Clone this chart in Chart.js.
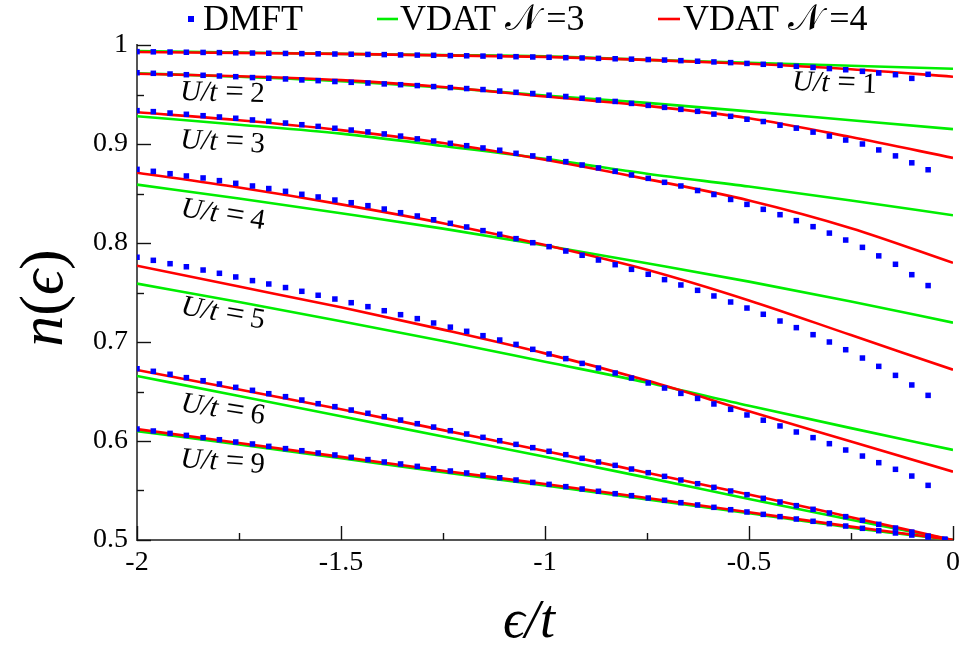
<!DOCTYPE html>
<html>
<head>
<meta charset="utf-8">
<script src="https://cdn.jsdelivr.net/npm/chart.js@4.4.1/dist/chart.umd.min.js"></script>
<style>
  html, body { margin: 0; padding: 0; background: #fff; }
  #c { display: block; }
</style>
</head>
<body>
<canvas id="c" width="966" height="651"></canvas>
<script>
// DMFT energy grid (eps/t)
const dmftX = [-2.000,-1.960,-1.919,-1.879,-1.838,-1.798,-1.758,-1.717,-1.677,-1.636,-1.596,-1.556,-1.515,-1.475,-1.434,-1.394,-1.354,-1.313,-1.273,-1.232,-1.192,-1.152,-1.111,-1.071,-1.030,-0.990,-0.949,-0.909,-0.869,-0.828,-0.788,-0.747,-0.707,-0.667,-0.626,-0.586,-0.545,-0.505,-0.465,-0.424,-0.384,-0.343,-0.303,-0.263,-0.222,-0.182,-0.141,-0.101,-0.061,-0.020];

const dmftU1 = [0.9933,0.9931,0.9929,0.9927,0.9925,0.9923,0.9921,0.9919,0.9917,0.9915,0.9913,0.9911,0.9909,0.9907,0.9905,0.9903,0.9900,
  0.9898,0.9896,0.9893,0.9891,0.9888,0.9885,0.9882,0.9879,0.9876,0.9872,0.9869,0.9865,0.9861,0.9857,0.9853,0.9848,
  0.9842,0.9836,0.9829,0.9822,0.9814,0.9805,0.9795,0.9785,0.9774,0.9762,0.9750,0.9734,0.9717,0.9700,0.9663,0.9704];
const dmftU2 = [0.9720,0.9714,0.9707,0.9700,0.9694,0.9687,0.9680,0.9671,0.9664,0.9657,0.9647,0.9640,0.9631,0.9623,0.9616,0.9607,0.9599,
  0.9590,0.9580,0.9570,0.9560,0.9550,0.9535,0.9522,0.9510,0.9493,0.9480,0.9462,0.9444,0.9430,0.9410,0.9390,0.9370,
  0.9350,0.9330,0.9302,0.9280,0.9250,0.9227,0.9190,0.9160,0.9120,0.9080,0.9040,0.9000,0.8940,0.8880,0.8810,0.8740];
const dmftU3 = [0.9337,0.9327,0.9313,0.9300,0.9286,0.9273,0.9260,0.9243,0.9229,0.9212,0.9195,0.9178,0.9159,0.9141,0.9122,0.9102,0.9080,
  0.9052,0.9030,0.9007,0.8983,0.8960,0.8937,0.8906,0.8880,0.8852,0.8822,0.8788,0.8758,0.8724,0.8687,0.8653,0.8613,
  0.8576,0.8530,0.8490,0.8440,0.8390,0.8340,0.8286,0.8226,0.8165,0.8100,0.8030,0.7956,0.7870,0.7785,0.7680,0.7570];
const dmftU4 = [0.8744,0.8724,0.8700,0.8677,0.8657,0.8630,0.8603,0.8576,0.8550,0.8522,0.8492,0.8465,0.8434,0.8407,0.8377,0.8343,0.8306,
  0.8273,0.8235,0.8199,0.8162,0.8125,0.8088,0.8044,0.8003,0.7963,0.7919,0.7876,0.7828,0.7781,0.7734,0.7684,0.7630,
  0.7576,0.7522,0.7465,0.7404,0.7343,0.7280,0.7212,0.7145,0.7074,0.7000,0.6922,0.6838,0.6754,0.6663,0.6566,0.6461];
const dmftU5 = [0.7856,0.7825,0.7791,0.7760,0.7727,0.7694,0.7657,0.7620,0.7586,0.7550,0.7512,0.7472,0.7434,0.7397,0.7357,0.7316,0.7276,
  0.7236,0.7192,0.7150,0.7108,0.7064,0.7020,0.6976,0.6926,0.6879,0.6832,0.6784,0.6737,0.6687,0.6636,0.6586,0.6535,
  0.6481,0.6430,0.6374,0.6320,0.6263,0.6210,0.6152,0.6091,0.6034,0.5973,0.5909,0.5848,0.5781,0.5714,0.5646,0.5552];
const dmftU6 = [0.6730,0.6704,0.6674,0.6640,0.6609,0.6576,0.6542,0.6512,0.6478,0.6448,0.6414,0.6377,0.6347,0.6313,0.6280,0.6246,0.6212,
  0.6175,0.6141,0.6104,0.6071,0.6037,0.6003,0.5966,0.5933,0.5896,0.5862,0.5825,0.5788,0.5754,0.5717,0.5680,0.5643,
  0.5606,0.5569,0.5532,0.5495,0.5458,0.5421,0.5384,0.5347,0.5310,0.5273,0.5236,0.5199,0.5158,0.5121,0.5080,0.5040,0.5007];
const dmftU9 = [0.6121,0.6101,0.6077,0.6057,0.6034,0.6013,0.5990,0.5970,0.5946,0.5923,0.5902,0.5879,0.5859,0.5835,0.5812,0.5788,0.5768,
  0.5744,0.5720,0.5697,0.5677,0.5653,0.5629,0.5606,0.5582,0.5562,0.5539,0.5515,0.5492,0.5468,0.5448,0.5424,0.5401,
  0.5377,0.5354,0.5330,0.5306,0.5283,0.5259,0.5236,0.5212,0.5189,0.5165,0.5141,0.5118,0.5094,0.5071,0.5050,0.5030,0.5007];

// VDAT curves sampled on a coarse grid
const curveX = [-2,-1.75,-1.5,-1.25,-1,-0.75,-0.5,-0.25,0];

const vdat3U1 = [0.994,0.9925,0.991,0.9898,0.9885,0.985,0.982,0.979,0.976];
const vdat3U2 = [0.9715,0.968,0.9635,0.957,0.949,0.9415,0.933,0.924,0.915];
const vdat3U3 = [0.928,0.9195,0.9105,0.898,0.885,0.870,0.857,0.843,0.828];
const vdat3U4 = [0.859,0.845,0.830,0.8145,0.7975,0.7795,0.761,0.741,0.7195];
const vdat3U5 = [0.759,0.7405,0.721,0.701,0.680,0.659,0.6355,0.613,0.591];
const vdat3U6 = [0.6657,0.6455,0.625,0.6045,0.584,0.563,0.5415,0.5205,0.500];
const vdat3U9 = [0.610,0.5965,0.5825,0.5685,0.555,0.541,0.527,0.5125,0.500];

const vdat4U1 = [0.993,0.992,0.991,0.9895,0.988,0.985,0.981,0.9755,0.968];
const vdat4U2 = [0.971,0.9685,0.9645,0.9575,0.948,0.9385,0.926,0.907,0.886];
const vdat4U3 = [0.932,0.924,0.914,0.901,0.884,0.8645,0.843,0.815,0.780];
const vdat4U4 = [0.871,0.856,0.839,0.820,0.798,0.773,0.742,0.707,0.672];
const vdat4U5 = [0.777,0.756,0.735,0.7125,0.6885,0.661,0.630,0.5995,0.569];
const vdat4U6 = [0.6717,0.652,0.632,0.611,0.590,0.568,0.546,0.523,0.500];
const vdat4U9 = [0.612,0.598,0.584,0.570,0.5565,0.5425,0.528,0.5135,0.500];

const uValues = ['1','2','3','4','5','6','9'];
const dmftSets = [dmftU1,dmftU2,dmftU3,dmftU4,dmftU5,dmftU6,dmftU9];
const vdat3Sets = [vdat3U1,vdat3U2,vdat3U3,vdat3U4,vdat3U5,vdat3U6,vdat3U9];
const vdat4Sets = [vdat4U1,vdat4U2,vdat4U3,vdat4U4,vdat4U5,vdat4U6,vdat4U9];

const xTicks = [-2,-1.5,-1,-0.5,0];
const xTickLabels = ['-2','-1.5','-1','-0.5','0'];
const xMinor = [-1.75,-1.25,-0.75,-0.25];
const yTicks = [0.5,0.6,0.7,0.8,0.9,1];
const yTickLabels = ['0.5','0.6','0.7','0.8','0.9','1'];
const yMinor = [0.55,0.65,0.75,0.85,0.95];

const seriesNames = ['DMFT','VDAT \u{1D4A9}\u2009=3','VDAT \u{1D4A9}\u2009=4'];

// where the U/t labels sit: [x, y, angle in degrees]
const uLabelPos = [[792,90,2],[180,100,1.5],[180,148,3],[180,216,9],[180,314,10],[180,411,9],[180,467,4]];

const SERIF = '"Liberation Serif", "DejaVu Serif", serif';
const BLUE = '#0000ff', GREEN = '#00ee00', RED = '#ff0000';

const toPts = (xs, ys) => ys.map((v, i) => ({ x: xs[i], y: v }));

const datasets = [];
dmftSets.forEach((s) => datasets.push({
  label: seriesNames[0], data: toPts(dmftX, s), showLine: false,
  pointStyle: 'rect', pointRadius: 3.9, pointBorderWidth: 0,
  pointBackgroundColor: BLUE, order: 0
}));
vdat4Sets.forEach((s) => datasets.push({
  label: seriesNames[2], data: toPts(curveX, s), borderColor: RED, borderWidth: 2.6,
  pointRadius: 0, cubicInterpolationMode: 'monotone', order: 1
}));
vdat3Sets.forEach((s) => datasets.push({
  label: seriesNames[1], data: toPts(curveX, s), borderColor: GREEN, borderWidth: 2.6,
  pointRadius: 0, cubicInterpolationMode: 'monotone', order: 2
}));

const decor = {
  id: 'decor',
  afterDraw(chart) {
    const { ctx } = chart;
    const x = chart.scales.x, y = chart.scales.y;
    ctx.save();

    // inward ticks
    ctx.strokeStyle = '#111';
    ctx.lineWidth = 1.4;
    const seg = (x1, y1, x2, y2) => { ctx.beginPath(); ctx.moveTo(x1, y1); ctx.lineTo(x2, y2); ctx.stroke(); };
    yTicks.forEach(v => { const p = Math.round(y.getPixelForValue(v)) + 0.5; seg(x.left, p, x.left + 14, p); });
    yMinor.forEach(v => { const p = Math.round(y.getPixelForValue(v)) + 0.5; seg(x.left, p, x.left + 7, p); });
    xTicks.forEach(v => { const p = Math.round(x.getPixelForValue(v)) + 0.5; seg(p, y.bottom, p, y.bottom - 14); });
    xMinor.forEach(v => { const p = Math.round(x.getPixelForValue(v)) + 0.5; seg(p, y.bottom, p, y.bottom - 7); });

    // legend
    ctx.font = '36px ' + SERIF;
    ctx.textBaseline = 'alphabetic';
    ctx.fillStyle = BLUE;
    ctx.fillRect(188, 16, 6, 6);
    ctx.fillStyle = '#000';
    ctx.fillText(seriesNames[0], 203, 30);
    ctx.strokeStyle = GREEN; ctx.lineWidth = 2.6;
    seg(377, 19, 398, 19);
    ctx.fillText(seriesNames[1], 400, 30);
    ctx.strokeStyle = RED;
    seg(658, 19, 680, 19);
    ctx.fillText(seriesNames[2], 683, 30);

    // U/t labels
    uLabelPos.forEach(([lx, ly, ang], i) => {
      ctx.save();
      ctx.translate(lx, ly);
      ctx.rotate(ang * Math.PI / 180);
      ctx.font = 'italic 29px ' + SERIF;
      ctx.fillText('U/t', 0, 0);
      ctx.font = '33px ' + SERIF;
      ctx.fillText('=', 45, 0);
      ctx.font = '29px ' + SERIF;
      ctx.fillText(uValues[i], 70, 0);
      ctx.restore();
    });

    // axis titles
    ctx.save();
    ctx.translate(62, 298);
    ctx.rotate(-Math.PI / 2);
    const fs = 62;
    ctx.font = 'italic ' + fs + 'px ' + SERIF;
    const wn = ctx.measureText('n').width;
    const we = ctx.measureText('\u03F5').width;
    ctx.font = fs + 'px ' + SERIF;
    const wp = ctx.measureText('(').width;
    let cx = -(wn + we + 2 * wp) / 2;
    ctx.font = 'italic ' + fs + 'px ' + SERIF;
    ctx.fillText('n', cx, 0); cx += wn;
    ctx.font = fs + 'px ' + SERIF;
    ctx.fillText('(', cx, 0); cx += wp;
    ctx.font = 'italic ' + fs + 'px ' + SERIF;
    ctx.fillText('\u03F5', cx, 0); cx += we;
    ctx.font = fs + 'px ' + SERIF;
    ctx.fillText(')', cx, 0);
    ctx.restore();

    ctx.font = 'italic 54px ' + SERIF;
    ctx.textAlign = 'center';
    ctx.fillText('\u03F5/t', 529, 637);

    ctx.restore();
  }
};

new Chart(document.getElementById('c'), {
  type: 'line',
  data: { datasets },
  options: {
    responsive: false,
    animation: false,
    devicePixelRatio: 1,
    layout: { padding: { top: 45, right: 8, bottom: 0, left: 0 } },
    plugins: { legend: { display: false }, tooltip: { enabled: false } },
    elements: { line: { tension: 0 } },
    scales: {
      x: {
        type: 'linear', min: -2, max: 0,
        afterBuildTicks: (s) => { s.ticks = xTicks.map(v => ({ value: v })); },
        afterFit: (s) => { s.height = 111; },
        grid: { display: false, drawTicks: false },
        border: { display: true, color: '#555', width: 2 },
        ticks: {
          padding: 6, color: '#000', font: { family: SERIF, size: 28 },
          maxRotation: 0, autoSkip: false,
          callback: (v, i) => xTickLabels[i]
        }
      },
      y: {
        type: 'linear', min: 0.5, max: 1,
        afterBuildTicks: (s) => { s.ticks = yTicks.map(v => ({ value: v })); },
        afterFit: (s) => { s.width = 137; },
        grid: { display: false, drawTicks: false },
        border: { display: true, color: '#555', width: 2 },
        ticks: {
          padding: 9, color: '#000', font: { family: SERIF, size: 28 },
          autoSkip: false,
          callback: (v, i) => yTickLabels[i]
        }
      }
    }
  },
  plugins: [decor]
});
</script>
</body>
</html>
